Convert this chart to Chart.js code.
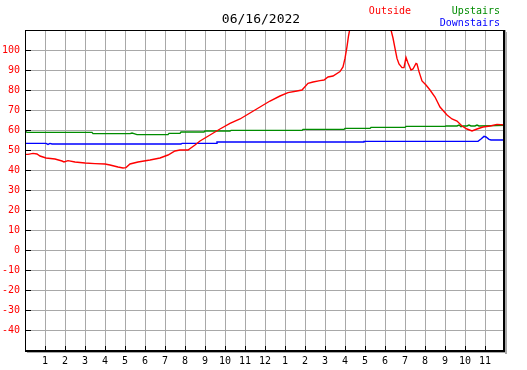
<!DOCTYPE html>
<html>
<head>
<meta charset="utf-8">
<title>06/16/2022</title>
<script src="https://cdn.jsdelivr.net/npm/chart.js@4/dist/chart.umd.min.js"></script>
<style>
  html, body { margin: 0; padding: 0; background: #fff; }
  canvas { display: block; }
</style>
</head>
<body>
<canvas id="chart" width="527" height="370"></canvas>
<script>
// Readings (hour of day, °F)
const outsideHours = [0, 0.15, 0.4, 0.6, 0.75, 1.05, 1.5, 1.85, 1.95, 2.15, 2.5, 3, 3.5, 4, 4.25, 4.65, 4.9, 5.05,
  5.25, 5.65, 6.25, 6.75, 7.15, 7.5, 7.75, 8.15, 8.5, 8.75, 9.25, 9.75, 10.25, 10.75, 11.25, 11.75, 12.25, 12.75,
  13.15, 13.6, 13.85, 14.15, 14.4, 14.75, 14.95, 15.15, 15.4, 15.75, 15.9, 16, 16.1, 16.17, 16.25, 16.55, 17, 17.5,
  18, 18.3, 18.4, 18.5, 18.6, 18.7, 18.85, 18.95, 19.05, 19.15, 19.3, 19.4, 19.55, 19.6, 19.7, 19.85, 20.05, 20.25,
  20.5, 20.75, 21.1, 21.35, 21.6, 21.85, 22.1, 22.35, 22.6, 22.9, 23.25, 23.6, 24];
const outsideTemps = [47.8, 47.8, 48.3, 48, 47, 46, 45.5, 44.5, 44, 44.7, 44, 43.5, 43.2, 43, 42.5, 41.5, 41, 41.2,
  43, 44, 45, 46, 47.5, 49.5, 50, 50, 52.5, 54.5, 57.5, 60.5, 63.3, 65.5, 68.5, 71.5, 74.5, 77,
  78.7, 79.5, 80, 83.3, 84, 84.7, 85, 86.5, 87, 89.2, 91.5, 95.8, 101.7, 106.7, 111, 118, 121, 120,
  115, 110, 106, 100.8, 95.8, 93, 91.2, 91.2, 96.3, 93.5, 90, 90.5, 93.3, 93, 89.2, 84.5, 82.5, 80,
  76.5, 71.5, 67.5, 65.5, 64.5, 62, 60.5, 59.5, 60.5, 61.5, 62, 62.8, 62.5];

const upstairsHours = [0, 0.1, 3.35, 3.4, 5.25, 5.35, 5.45, 5.6, 7.15, 7.2, 7.75, 7.8, 8.95, 9, 10.25, 10.3,
  13.85, 13.9, 15.95, 16, 17.25, 17.3, 19, 19.05, 21, 21.05, 21.6, 21.7, 21.8, 21.9, 22.1, 22.2, 22.3, 22.5,
  22.6, 22.7, 24];
const upstairsTemps = [59.5, 58.8, 58.8, 58.2, 58.2, 58.5, 58.2, 57.7, 57.7, 58.3, 58.3, 59, 59, 59.5, 59.5, 59.8,
  59.8, 60.3, 60.3, 60.8, 60.8, 61.3, 61.3, 61.8, 61.8, 62, 62, 62.5, 61.7, 62, 62, 62.5, 62, 62,
  62.5, 62, 62.3];

const downstairsHours = [0, 1.05, 1.15, 1.25, 1.35, 7.8, 7.85, 9.55, 9.6, 16.9, 16.95, 22.65, 22.8, 22.95, 23.05,
  23.2, 23.3, 24];
const downstairsTemps = [53.3, 53.3, 52.8, 53.3, 53, 53, 53.3, 53.3, 54, 54, 54.3, 54.3, 55.5, 56.8, 56.5,
  55.3, 55, 55];

const hourLabels = ['', '1', '2', '3', '4', '5', '6', '7', '8', '9', '10', '11', '12',
  '1', '2', '3', '4', '5', '6', '7', '8', '9', '10', '11', ''];
const tempTicks = [-40, -30, -20, -10, 0, 10, 20, 30, 40, 50, 60, 70, 80, 90, 100];

const seriesNames = ['Outside', 'Upstairs', 'Downstairs'];
const seriesColors = ['#ff0000', '#008c00', '#0000ff'];
const titleText = '06/16/2022';

const MONO = '"DejaVu Sans Mono", "Liberation Mono", monospace';

function toPoints(hours, temps) {
  return hours.map((h, i) => ({ x: h, y: temps[i] }));
}

// frame, inner tick marks, title and legend text
const framePlugin = {
  id: 'frame',
  afterDraw(chart) {
    const { ctx, chartArea: a, scales } = chart;
    const l = Math.round(a.left), r = Math.round(a.right);
    const t = Math.round(a.top), b = Math.round(a.bottom);
    ctx.save();
    ctx.fillStyle = '#a8a8a8';
    ctx.fillRect(r, t + 2, 2, b - t + 2);
    ctx.fillRect(l + 2, b + 2, r - l, 1);
    ctx.fillStyle = '#000';
    ctx.fillRect(l, t, r - l, 1);
    ctx.fillRect(l, t, 1, b - t);
    ctx.fillRect(r - 2, t, 2, b - t + 2);
    ctx.fillRect(l, b, r - l, 2);

    tempTicks.forEach(v => {
      const y = Math.floor(scales.y.getPixelForValue(v));
      ctx.fillRect(l + 1, y, 5, 1);
    });
    for (let h = 1; h < 24; h++) {
      const x = Math.floor(scales.x.getPixelForValue(h));
      ctx.fillRect(x, b - 4, 1, 4);
    }

    ctx.textBaseline = 'middle';
    ctx.font = '13px ' + MONO;
    ctx.textAlign = 'center';
    ctx.fillStyle = '#000';
    ctx.fillText(titleText, 261, 20);

    ctx.font = '10px ' + MONO;
    ctx.textAlign = 'right';
    ctx.fillStyle = seriesColors[0];
    ctx.fillText(seriesNames[0], 411, 11);
    ctx.fillStyle = seriesColors[1];
    ctx.fillText(seriesNames[1], 500, 11);
    ctx.fillStyle = seriesColors[2];
    ctx.fillText(seriesNames[2], 500, 23);
    ctx.restore();
  }
};

const lineStyle = { borderWidth: 1.4, pointRadius: 0, tension: 0, fill: false };

new Chart(document.getElementById('chart'), {
  type: 'line',
  data: {
    datasets: [
      { label: seriesNames[0], data: toPoints(outsideHours, outsideTemps), borderColor: seriesColors[0], ...lineStyle },
      { label: seriesNames[1], data: toPoints(upstairsHours, upstairsTemps), borderColor: seriesColors[1], ...lineStyle },
      { label: seriesNames[2], data: toPoints(downstairsHours, downstairsTemps), borderColor: seriesColors[2], ...lineStyle }
    ]
  },
  options: {
    responsive: false,
    animation: false,
    devicePixelRatio: 1,
    layout: { padding: { top: 30, right: 22, left: 0, bottom: 0 } },
    plugins: {
      legend: { display: false },
      title: { display: false },
      tooltip: { enabled: false }
    },
    scales: {
      x: {
        type: 'linear',
        min: 0,
        max: 24,
        afterFit: s => { s.height = 20; },
        grid: { color: '#a8a8a8', drawTicks: false },
        border: { display: false },
        ticks: {
          stepSize: 1,
          autoSkip: false,
          maxRotation: 0,
          padding: 5,
          color: '#000',
          font: { family: MONO, size: 10 },
          callback: v => hourLabels[v]
        }
      },
      y: {
        min: -50,
        max: 110,
        afterFit: s => { s.width = 25; },
        grid: { color: '#a8a8a8', drawTicks: false },
        border: { display: false },
        ticks: {
          stepSize: 10,
          padding: 5,
          color: '#ff0000',
          font: { family: MONO, size: 10 },
          callback: v => (tempTicks.includes(v) ? String(v) : '')
        }
      }
    }
  },
  plugins: [framePlugin]
});
</script>
</body>
</html>
